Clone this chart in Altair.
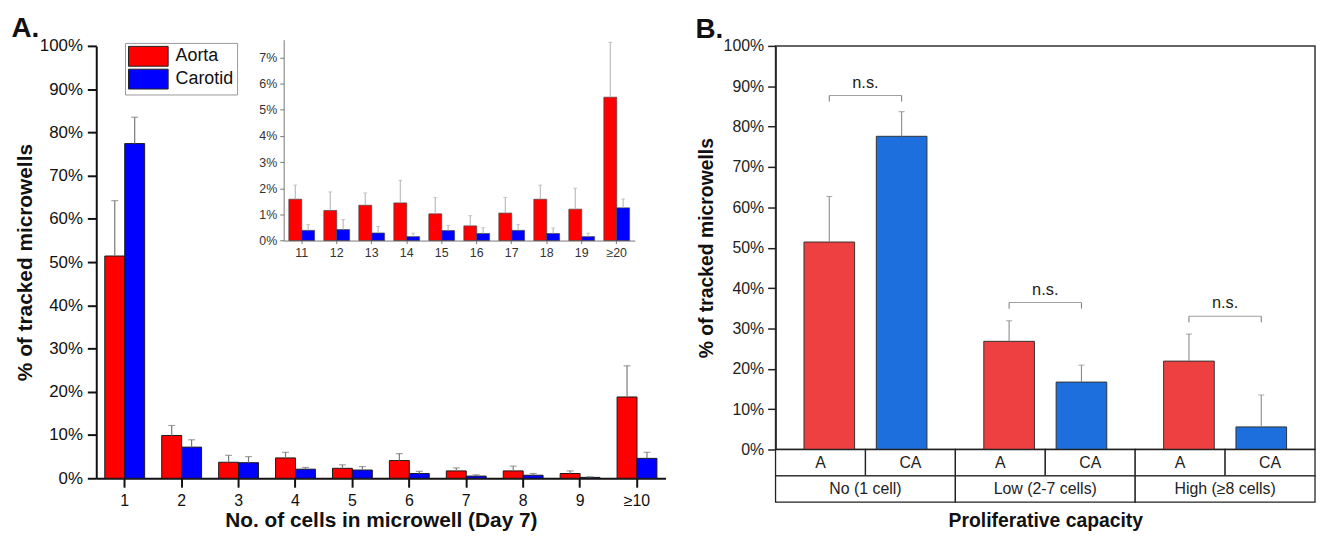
import altair as alt
import pandas as pd

FONT = "Liberation Sans"

# ---------------- Panel A data (main histogram) ----------------
cells_main = ["1", "2", "3", "4", "5", "6", "7", "8", "9", "≥10"]
aorta_main = [51.4, 9.9, 3.7, 4.7, 2.3, 4.1, 1.7, 1.7, 1.1, 18.8]
aorta_main_err = [12.8, 2.3, 1.6, 1.3, 0.8, 1.6, 0.7, 1.1, 0.6, 7.2]
carotid_main = [77.4, 7.2, 3.6, 2.1, 1.9, 1.1, 0.5, 0.7, 0.2, 4.6]
carotid_main_err = [6.1, 1.7, 1.4, 0.4, 0.8, 0.5, 0.3, 0.4, 0.15, 1.4]

# ---------------- Panel A inset data ----------------
cells_inset = ["11", "12", "13", "14", "15", "16", "17", "18", "19", "≥20"]
aorta_inset = [1.58, 1.15, 1.35, 1.44, 1.02, 0.56, 1.05, 1.58, 1.20, 5.48]
aorta_inset_err = [0.54, 0.71, 0.47, 0.86, 0.62, 0.39, 0.60, 0.54, 0.80, 2.10]
carotid_inset = [0.39, 0.42, 0.29, 0.15, 0.38, 0.27, 0.39, 0.27, 0.15, 1.25]
carotid_inset_err = [0.22, 0.38, 0.25, 0.13, 0.20, 0.22, 0.22, 0.21, 0.13, 0.34]

series = ["Aorta", "Carotid"]

# ---------------- Panel B data ----------------
groups_b = ["No (1 cell)", "Low (2-7 cells)", "High (≥8 cells)"]
subs_b = ["A", "CA"]
a_b = [51.4, 26.8, 21.9]
a_b_err = [11.3, 5.1, 6.7]
ca_b = [77.6, 16.7, 5.6]
ca_b_err = [6.1, 4.2, 7.9]
bracket_b = [87.7, 36.4, 33.0]
bracket_leg = 1.5


def long_table(cats, a, a_err, c, c_err, key, names):
    rows = []
    for i, cat in enumerate(cats):
        rows.append({key: cat, "series": names[0], "value": a[i], "top": a[i] + a_err[i]})
        rows.append({key: cat, "series": names[1], "value": c[i], "top": c[i] + c_err[i]})
    return pd.DataFrame(rows)


main_df = long_table(cells_main, aorta_main, aorta_main_err, carotid_main, carotid_main_err, "cell", series)
inset_df = long_table(cells_inset, aorta_inset, aorta_inset_err, carotid_inset, carotid_inset_err, "cell", series)
b_df = long_table(groups_b, a_b, a_b_err, ca_b, ca_b_err, "group", subs_b).rename(columns={"series": "sub"})

# ---------------- Panel A ----------------
color_a = alt.Color(
    "series:N",
    scale=alt.Scale(domain=series, range=["#ff0000", "#0000ff"]),
    legend=alt.Legend(
        title=None, orient="none", legendX=29, legendY=-3, direction="vertical",
        symbolType="M-1,-1L3,-1L3,1L-1,1Z", symbolSize=400,
        symbolStrokeColor="#222", symbolStrokeWidth=1, symbolOpacity=1,
        labelFont=FONT, labelFontSize=18, labelColor="#111", labelOffset=27,
        rowPadding=-3, padding=3, strokeColor="#999", fillColor="white",
    ),
)

x_main = alt.X(
    "cell:N",
    scale=alt.Scale(domain=cells_main, paddingInner=0.3, paddingOuter=0.15),
    axis=alt.Axis(
        title="No. of cells in microwell (Day 7)", labelAngle=0, labelFontSize=16,
        labelColor="#111", labelPadding=5, tickSize=9, tickWidth=2, tickColor="#111",
        domainWidth=2, domainColor="#111", titleFontSize=21, titleFontWeight="bold",
        titleColor="#111", titlePadding=2,
    ),
)
xo_main = alt.XOffset("series:N", scale=alt.Scale(domain=series, paddingInner=0, paddingOuter=0))
y_main = alt.Y(
    "value:Q",
    scale=alt.Scale(domain=[0, 100], nice=False),
    axis=alt.Axis(
        values=list(range(0, 101, 10)), labelExpr="datum.value + '%'", grid=False,
        tickSize=9, tickWidth=2, tickColor="#111", domainWidth=2, domainColor="#111",
        labelFontSize=17, labelColor="#111", labelPadding=5,
        title="% of tracked microwells", titleFontSize=21, titleFontWeight="bold",
        titleColor="#111", titlePadding=4,
    ),
)

main_bars = alt.Chart(main_df).mark_bar(stroke="#1a1a1a", strokeWidth=1).encode(
    x=x_main, xOffset=xo_main, y=y_main, color=color_a
)
main_err = alt.Chart(main_df).mark_rule(color="#7a7a7a", strokeWidth=1.2).encode(
    x=x_main, xOffset=xo_main, y="value:Q", y2="top:Q"
)
main_cap = alt.Chart(main_df).mark_tick(orient="horizontal", size=7, thickness=1.2, color="#7a7a7a").encode(
    x=x_main, xOffset=xo_main, y="top:Q"
)
main_layer = alt.layer(main_bars, main_err, main_cap)

x_in = alt.X(
    "cell:N",
    scale=alt.Scale(domain=cells_inset, range=[189, 543], paddingInner=0.264, paddingOuter=0.147),
    axis=alt.Axis(
        orient="bottom", offset=-239.7, title=None, labelAngle=0, labelFontSize=12.5,
        labelColor="#333", labelPadding=3, tickSize=3, tickColor="#777",
        domainColor="#777", domainWidth=1,
    ),
)
xo_in = alt.XOffset("series:N", scale=alt.Scale(domain=series, paddingInner=0, paddingOuter=0))
y_in = alt.Y(
    "value:Q",
    scale=alt.Scale(domain=[0, 7.68], nice=False, range=[196.3, -6.3]),
    axis=alt.Axis(
        orient="left", offset=-189, values=list(range(0, 8)), labelExpr="datum.value + '%'",
        grid=False, title=None, tickSize=4, tickColor="#777", domainColor="#777",
        domainWidth=1, labelFontSize=12.5, labelColor="#333", labelPadding=3,
    ),
)
in_bars = alt.Chart(inset_df).mark_bar(stroke="#444", strokeWidth=0.7).encode(
    x=x_in, xOffset=xo_in, y=y_in, color=color_a
)
in_err = alt.Chart(inset_df).mark_rule(color="#b0b0b0", strokeWidth=1).encode(
    x=x_in, xOffset=xo_in, y="value:Q", y2="top:Q"
)
in_cap = alt.Chart(inset_df).mark_tick(orient="horizontal", size=4, thickness=1, color="#b0b0b0").encode(
    x=x_in, xOffset=xo_in, y="top:Q"
)
inset_layer = alt.layer(in_bars, in_err, in_cap)

panel_a = (
    alt.layer(main_layer, inset_layer)
    .resolve_scale(x="independent", y="independent", xOffset="independent")
    .properties(
        width=574, height=436,
        title=alt.TitleParams("A.", anchor="start", fontSize=28, fontWeight="bold", font=FONT,
                              color="#111", dx=-3, offset=-6.5),
    )
)

# ---------------- Panel B ----------------
x_b = alt.X("group:N", scale=alt.Scale(domain=groups_b, paddingInner=0, paddingOuter=0), axis=None)
xo_b = alt.XOffset("sub:N", scale=alt.Scale(domain=subs_b, paddingInner=0.3, paddingOuter=0.393))
y_b = alt.Y(
    "value:Q",
    scale=alt.Scale(domain=[0, 100], nice=False),
    axis=alt.Axis(
        values=list(range(0, 101, 10)), labelExpr="datum.value + '%'", grid=False,
        tickSize=8, tickWidth=1.5, tickColor="#222", domainWidth=1.5, domainColor="#222",
        labelFontSize=16, labelColor="#222", labelPadding=4,
        title="% of tracked microwells", titleFontSize=19.5, titleFontWeight="bold",
        titleColor="#111", titlePadding=7,
    ),
)
color_b = alt.Color("sub:N", scale=alt.Scale(domain=subs_b, range=["#ee4040", "#1c6fdc"]), legend=None)

b_bars = alt.Chart(b_df).mark_bar(stroke="#333", strokeWidth=1).encode(
    x=x_b, xOffset=xo_b, y=y_b, color=color_b
)
b_err = alt.Chart(b_df).mark_rule(color="#8a8a8a", strokeWidth=1.1).encode(
    x=x_b, xOffset=xo_b, y="value:Q", y2="top:Q"
)
b_cap = alt.Chart(b_df).mark_tick(orient="horizontal", size=6, thickness=1.1, color="#8a8a8a").encode(
    x=x_b, xOffset=xo_b, y="top:Q"
)

br_df = pd.DataFrame({"group": groups_b, "level": bracket_b})
leg_df = pd.DataFrame(
    [{"group": g, "sub": s, "level": lvl, "low": lvl - bracket_leg}
     for g, lvl in zip(groups_b, bracket_b) for s in subs_b]
)
b_br = alt.Chart(br_df).mark_tick(orient="horizontal", size=73, thickness=1, color="#777").encode(
    x=x_b, y="level:Q"
)
b_leg = alt.Chart(leg_df).mark_rule(color="#777", strokeWidth=1).encode(
    x=x_b, xOffset=xo_b, y="level:Q", y2="low:Q"
)
b_ns = alt.Chart(br_df).mark_text(text="n.s.", font=FONT, fontSize=16.5, color="#222",
                                  baseline="alphabetic", dy=-8).encode(x=x_b, y="level:Q")

b_top = alt.layer(b_bars, b_err, b_cap, b_br, b_leg, b_ns).properties(
    width=544, height=407, view=alt.ViewBackground(stroke="#333", strokeWidth=1.5)
)

tab_sub = pd.DataFrame([{"group": g, "sub": s, "row": "sub"} for g in groups_b for s in subs_b])
tab_grp = pd.DataFrame({"group": groups_b, "row": ["grp"] * len(groups_b)})
x_t = alt.X(
    "group:N",
    scale=alt.Scale(domain=groups_b, paddingInner=0, paddingOuter=0),
    axis=alt.Axis(title="Proliferative capacity", labels=False, ticks=False, domain=False,
                  titleFontSize=19.5, titleFontWeight="bold", titleColor="#111", titlePadding=10),
)
xo_t = alt.XOffset("sub:N", scale=alt.Scale(domain=subs_b, paddingInner=0, paddingOuter=0))
y_t = alt.Y("row:N", scale=alt.Scale(domain=["sub", "grp"], paddingInner=0, paddingOuter=0), axis=None)

t_rect1 = alt.Chart(tab_sub).mark_rect(fill="white", stroke="#222", strokeWidth=1.3).encode(
    x=x_t, xOffset=xo_t, y=y_t
)
t_text1 = alt.Chart(tab_sub).mark_text(font=FONT, fontSize=16, color="#222").encode(
    x=x_t, xOffset=xo_t, y=y_t, text="sub:N"
)
t_rect2 = alt.Chart(tab_grp).mark_rect(fill="white", stroke="#222", strokeWidth=1.3).encode(x=x_t, y=y_t)
t_text2 = alt.Chart(tab_grp).mark_text(font=FONT, fontSize=16, color="#222").encode(
    x=x_t, y=y_t, text="group:N"
)
b_table = alt.layer(t_rect1, t_text1, t_rect2, t_text2).properties(width=544, height=53)

panel_b = (
    alt.vconcat(b_top, b_table, spacing=0, bounds="flush")
    .resolve_scale(xOffset="independent")
    .properties(
        title=alt.TitleParams("B.", anchor="start", fontSize=28, fontWeight="bold", font=FONT,
                              color="#111", offset=-6.5),
    )
)

chart = (
    alt.hconcat(panel_a, panel_b, spacing=29)
    .resolve_scale(color="independent", xOffset="independent")
    .properties(padding={"left": 3, "top": 5, "right": 0, "bottom": 0})
    .configure(font=FONT)
    .configure_axis(labelFont=FONT, titleFont=FONT)
    .configure_view(stroke="transparent")
)

chart.save("out.html", embed_options={"renderer": "svg", "actions": False})
